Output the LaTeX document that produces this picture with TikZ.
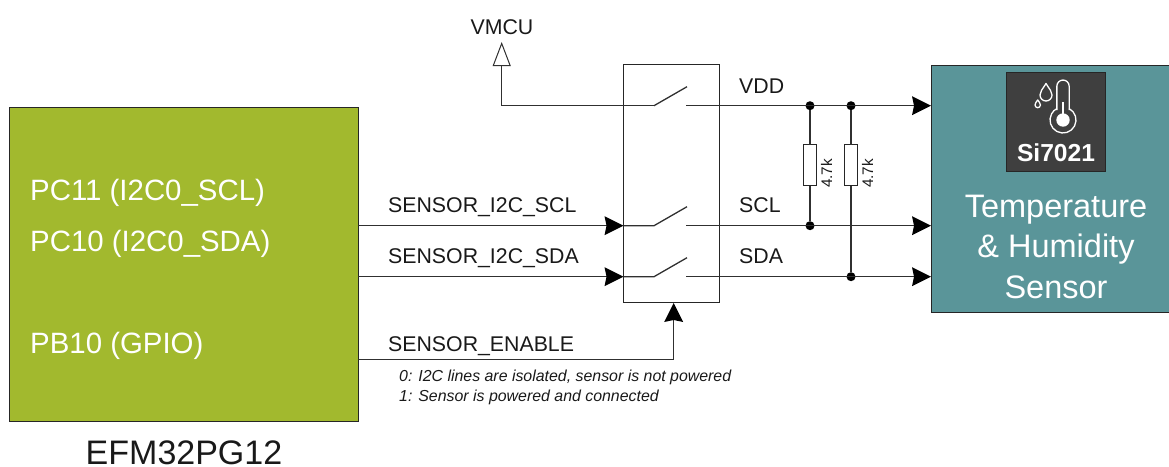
\documentclass[tikz,border=0pt]{standalone}
\usepackage{fontspec}
\setmainfont{Liberation Sans}
\usetikzlibrary{arrows.meta,calc}
\definecolor{mcugreen}{HTML}{A2B92E}
\definecolor{sensorteal}{HTML}{5A9599}
\definecolor{chipdark}{HTML}{3F3F3F}
\definecolor{wirecol}{HTML}{303030}
\newcommand{\fs}[1]{\fontsize{#1}{#1}\selectfont}
\tikzset{
  box/.style={draw=black!85,line width=1pt,inner sep=0pt,outer sep=0pt},
  wire/.style={draw=wirecol,line width=1.3pt},
  solidtip/.style={-{Stealth[length=19pt,width=19pt,inset=2pt,fill=black,line width=0pt]}},
  hollowtip/.style={-{Triangle[length=24pt,width=18pt,open,fill=white,line width=1pt]}},
  dot/.style={circle,fill=black,inner sep=0pt,minimum size=9pt},
  res/.style={draw=black!85,line width=1pt,fill=white,inner sep=0pt,outer sep=0pt,minimum width=13pt,minimum height=41pt},
  lab/.style={anchor=base west,inner sep=0pt,text=black!90},
  sig/.style={lab,font=\fs{21.3}},
  pin/.style={lab,font=\fs{29.4},text=white},
  note/.style={lab,font=\fs{15.9}\itshape},
  rval/.style={inner sep=0pt,font=\fs{15.3},rotate=90,anchor=base,text=black!90},
  sensorlab/.style={inner sep=0pt,anchor=base,font=\fs{32.5},text=white},
  icon/.style={draw=white,line width=1.3pt}
}
\begin{document}
\begin{tikzpicture}[x=1pt,y=-1pt]
\useasboundingbox (0,0) rectangle (1169,466);
% blocks
\node[box,fill=mcugreen,minimum width=349pt,minimum height=314pt] (mcu) at (183.5,264) {};
\node[box,fill=sensorteal,minimum width=240pt,minimum height=247pt] (sensor) at (1051,188.5) {};
\node[box,fill=chipdark,minimum width=99pt,minimum height=99pt] (chip) at (1056,121.5) {};
\node[box,minimum width=95.5pt,minimum height=237.5pt] (switch) at (671.25,183.25) {};
% named points
\coordinate (vmcu) at (501.7,42);
\coordinate (vL) at (501.7,105.7);
\coordinate (vA) at (654,105.7);
\coordinate (vB) at (687,86.7);
\coordinate (vC) at (686,105.7);
\coordinate (vEnd) at (sensor.west |- vC);
\coordinate (sclL) at (mcu.east |- 0,225.7);
\coordinate (sclA) at (654,225.7);
\coordinate (sclB) at (687,206.7);
\coordinate (sclC) at (686,225.7);
\coordinate (sclEnd) at (sensor.west |- sclC);
\coordinate (sdaL) at (mcu.east |- 0,276.7);
\coordinate (sdaA) at (654,276.7);
\coordinate (sdaB) at (687,257.7);
\coordinate (sdaC) at (686,276.7);
\coordinate (sdaEnd) at (sensor.west |- sdaC);
\coordinate (enL) at (mcu.east |- 0,359.3);
\coordinate (enC) at (673.7,359.3);
\coordinate (enT) at (673.7,303);
% junctions
\node[dot] (j1) at (810,105.7) {};
\node[dot] (j2) at (851,105.7) {};
\node[dot] (j3) at (810,225.7) {};
\node[dot] (j4) at (851,276.7) {};
% connectors
\draw[wire,hollowtip] (vA) -- (vL) -- (vmcu);
\draw[wire] (vA) -- (vB);
\draw[wire,solidtip] (vC) -- (vEnd);
\draw[wire,solidtip] (sclL) -- (switch.west |- sclL);
\draw[wire] (switch.west |- sclL) -- (sclA) -- (sclB);
\draw[wire,solidtip] (sclC) -- (sclEnd);
\draw[wire,solidtip] (sdaL) -- (switch.west |- sdaL);
\draw[wire] (switch.west |- sdaL) -- (sdaA) -- (sdaB);
\draw[wire,solidtip] (sdaC) -- (sdaEnd);
\draw[wire,solidtip] (enL) -- (enC) -- (enT);
\node[res] (r1) at (810,165.3) {};
\node[res] (r2) at (851,165.3) {};
\draw[wire] (j1) -- (r1);
\draw[wire] (r1) -- (j3);
\draw[wire] (j2) -- (r2);
\draw[wire] (r2) -- (j4);
% icon
\draw[icon] (1056.85,110) -- (1056.85,86.2) arc[start angle=180,end angle=360,radius=6.15] -- (1069.15,110);
\draw[icon] (1063,120) +(-62:13) arc[start angle=-62,end angle=242,radius=13];
\fill[white] (1063,120) circle[radius=6.7];
\draw[icon] (1063,120) -- (1063,101.7);
\draw[icon,line join=round] (1046,83.5) .. controls (1042,90) and (1040,91.5) .. (1040,95) arc[start angle=180,end angle=0,radius=6] .. controls (1052,91.5) and (1050,90) .. (1046,83.5) -- cycle;
\draw[icon,line join=round] (1037.7,100) .. controls (1036.5,102) and (1035,103) .. (1035,105) arc[start angle=180,end angle=0,radius=2.7] .. controls (1040.4,103) and (1039,102) .. (1037.7,100) -- cycle;
% labels
\node[inner sep=0pt,anchor=base,font=\fs{21.3},text=black!90] (tvmcu) at (502,34) {VMCU};
\node[sig] (tvdd) at (739,93.5) {VDD};
\node[sig] (tscl) at (739,212) {SCL};
\node[sig] (tsda) at (739,263) {SDA};
\node[sig] (ta) at (388,212) {SENSOR\_I2C\_SCL};
\node[sig] (tb) at (388,263) {SENSOR\_I2C\_SDA};
\node[sig] (tc) at (388,351) {SENSOR\_ENABLE};
\node[pin] (p1) at (30,200) {PC11 (I2C0\_SCL)};
\node[pin] (p2) at (30,251) {PC10 (I2C0\_SDA)};
\node[pin] (p3) at (30,353) {PB10 (GPIO)};
\node[note] (n1) at (399,381) {0: I2C lines are isolated, sensor is not powered};
\node[note] (n2) at (399,401) {1: Sensor is powered and connected};
\node[inner sep=0pt,anchor=base,font=\fs{34},text=black!90] (tmcu) at (184,464) {EFM32PG12};
\node[inner sep=0pt,anchor=base,font=\fs{24.6}\bfseries,text=white] (tchip) at (1056,161) {Si7021};
\node[sensorlab] (s1) at (1056,217) {Temperature};
\node[sensorlab] (s2) at (1056,257) {\&\ Humidity};
\node[sensorlab] (s3) at (1056,298) {Sensor};
\node[rval] (v1) at (832,173.5) {4.7k};
\node[rval] (v2) at (873,173.5) {4.7k};
\end{tikzpicture}
\end{document}
